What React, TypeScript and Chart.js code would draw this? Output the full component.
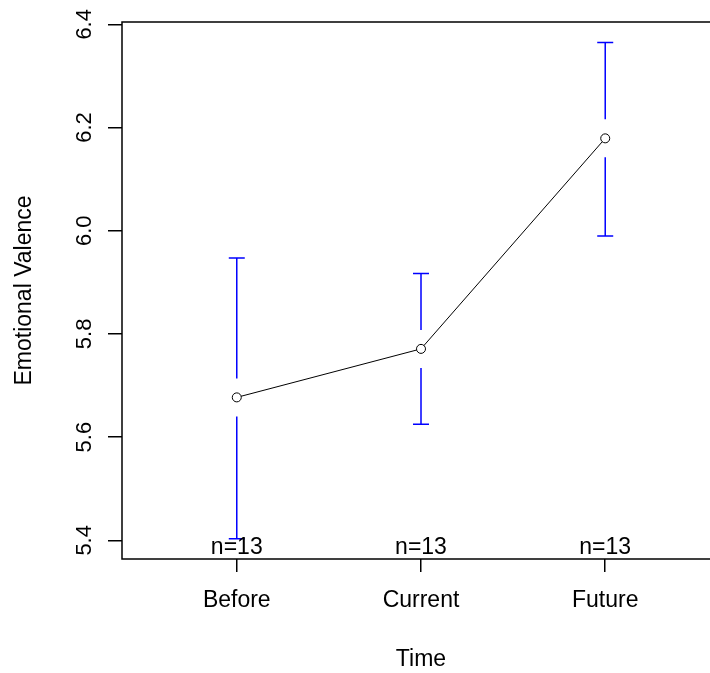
import React, { useEffect, useRef } from "react";
import { Chart, registerables } from "chart.js";

Chart.register(...registerables);

const categories = ["Before", "Current", "Future"];
const xPositions = [1, 2, 3];
const means = [5.677, 5.771, 6.179];
const upper = [5.947, 5.917, 6.365];
const lower = [5.403, 5.625, 5.99];
const nLabels = ["n=13", "n=13", "n=13"];
const yTicks = [5.4, 5.6, 5.8, 6.0, 6.2, 6.4];
const yTickLabels = ["5.4", "5.6", "5.8", "6.0", "6.2", "6.4"];

const FONT = "'Liberation Sans', Arial, sans-serif";

const rPlugin = {
  id: "rplot",
  beforeDatasetsDraw(chart: any) {
    const ctx = chart.ctx;
    const xs = chart.scales.x;
    const ys = chart.scales.y;
    ctx.save();
    ctx.strokeStyle = "#0000FF";
    ctx.lineWidth = 1.5;
    const gap = 19;
    const cap = 8;
    xPositions.forEach((xv, i) => {
      const px = xs.getPixelForValue(xv);
      const pm = ys.getPixelForValue(means[i]);
      const pu = ys.getPixelForValue(upper[i]);
      const pl = ys.getPixelForValue(lower[i]);
      ctx.beginPath();
      if (pm - gap > pu) {
        ctx.moveTo(px, pm - gap);
        ctx.lineTo(px, pu);
      }
      ctx.moveTo(px - cap, pu);
      ctx.lineTo(px + cap, pu);
      if (pm + gap < pl) {
        ctx.moveTo(px, pm + gap);
        ctx.lineTo(px, pl);
      }
      ctx.moveTo(px - cap, pl);
      ctx.lineTo(px + cap, pl);
      ctx.stroke();
    });
    ctx.restore();
  },
  afterDraw(chart: any) {
    const ctx = chart.ctx;
    const xs = chart.scales.x;
    const ys = chart.scales.y;
    const area = chart.chartArea;
    ctx.save();
    // box
    ctx.strokeStyle = "#000";
    ctx.lineWidth = 1.5;
    ctx.strokeRect(area.left, area.top, area.right - area.left, area.bottom - area.top);
    // n labels
    ctx.fillStyle = "#000";
    ctx.font = `23px ${FONT}`;
    ctx.textAlign = "center";
    ctx.textBaseline = "alphabetic";
    xPositions.forEach((xv, i) => {
      ctx.fillText(nLabels[i], xs.getPixelForValue(xv), area.bottom - 5);
    });
    // y tick labels, rotated
    ctx.font = `22px ${FONT}`;
    yTicks.forEach((v, i) => {
      const py = ys.getPixelForValue(v);
      ctx.save();
      ctx.translate(91, py);
      ctx.rotate(-Math.PI / 2);
      ctx.textAlign = "center";
      ctx.textBaseline = "alphabetic";
      ctx.fillText(yTickLabels[i], 0, 0);
      ctx.restore();
    });
    ctx.restore();
  },
};

export default function App() {
  const ref = useRef<HTMLCanvasElement | null>(null);
  useEffect(() => {
    if (!ref.current) return;
    const chart = new Chart(ref.current, {
      type: "line",
      data: {
        datasets: [
          {
            data: xPositions.map((x, i) => ({ x, y: means[i] })),
            borderColor: "#000",
            borderWidth: 1,
            pointRadius: 4.5,
            pointBorderWidth: 1,
            pointBorderColor: "#000",
            pointBackgroundColor: "#fff",
            tension: 0,
            fill: false,
          },
        ],
      },
      options: {
        animation: false,
        responsive: false,
        devicePixelRatio: 1,
        layout: { padding: { top: 22, right: 20, left: 0, bottom: 0 } },
        plugins: { legend: { display: false }, tooltip: { enabled: false } },
        scales: {
          x: {
            type: "linear",
            min: 0.377,
            max: 3.623,
            afterBuildTicks: (s: any) => {
              s.ticks = xPositions.map((v) => ({ value: v }));
            },
            afterFit: (s: any) => {
              s.height = 114;
            },
            ticks: {
              callback: (v: any) => {
                const idx = xPositions.indexOf(Number(v));
                return idx >= 0 ? categories[idx] : "";
              },
              font: { size: 23, family: FONT },
              color: "#000",
              padding: 15,
              autoSkip: false,
              maxRotation: 0,
              minRotation: 0,
            },
            grid: {
              display: true,
              drawOnChartArea: false,
              drawTicks: true,
              tickLength: 13,
              color: "#000",
              lineWidth: 1.5,
            },
            border: { display: false },
            title: {
              display: true,
              text: "Time",
              font: { size: 23, family: FONT },
              color: "#000",
              padding: { top: 0, bottom: 0 },
            },
          },
          y: {
            type: "linear",
            min: 5.3638,
            max: 6.4045,
            afterBuildTicks: (s: any) => {
              s.ticks = yTicks.map((v) => ({ value: v }));
            },
            afterFit: (s: any) => {
              s.width = 122;
            },
            ticks: { display: false },
            grid: {
              display: true,
              drawOnChartArea: false,
              drawTicks: true,
              tickLength: 14,
              color: "#000",
              lineWidth: 1.5,
            },
            border: { display: false },
            title: {
              display: true,
              text: "Emotional Valence",
              font: { size: 23, family: FONT },
              color: "#000",
              padding: { top: 11, bottom: 0 },
            },
          },
        },
      },
      plugins: [rPlugin],
    } as any);
    return () => chart.destroy();
  }, []);
  return (
    <div
      style={{
        position: "absolute",
        left: 0,
        top: 0,
        width: 710,
        height: 673,
        overflow: "hidden",
        background: "#fff",
      }}
    >
      <canvas ref={ref} width={740} height={673} style={{ display: "block" }} />
    </div>
  );
}
